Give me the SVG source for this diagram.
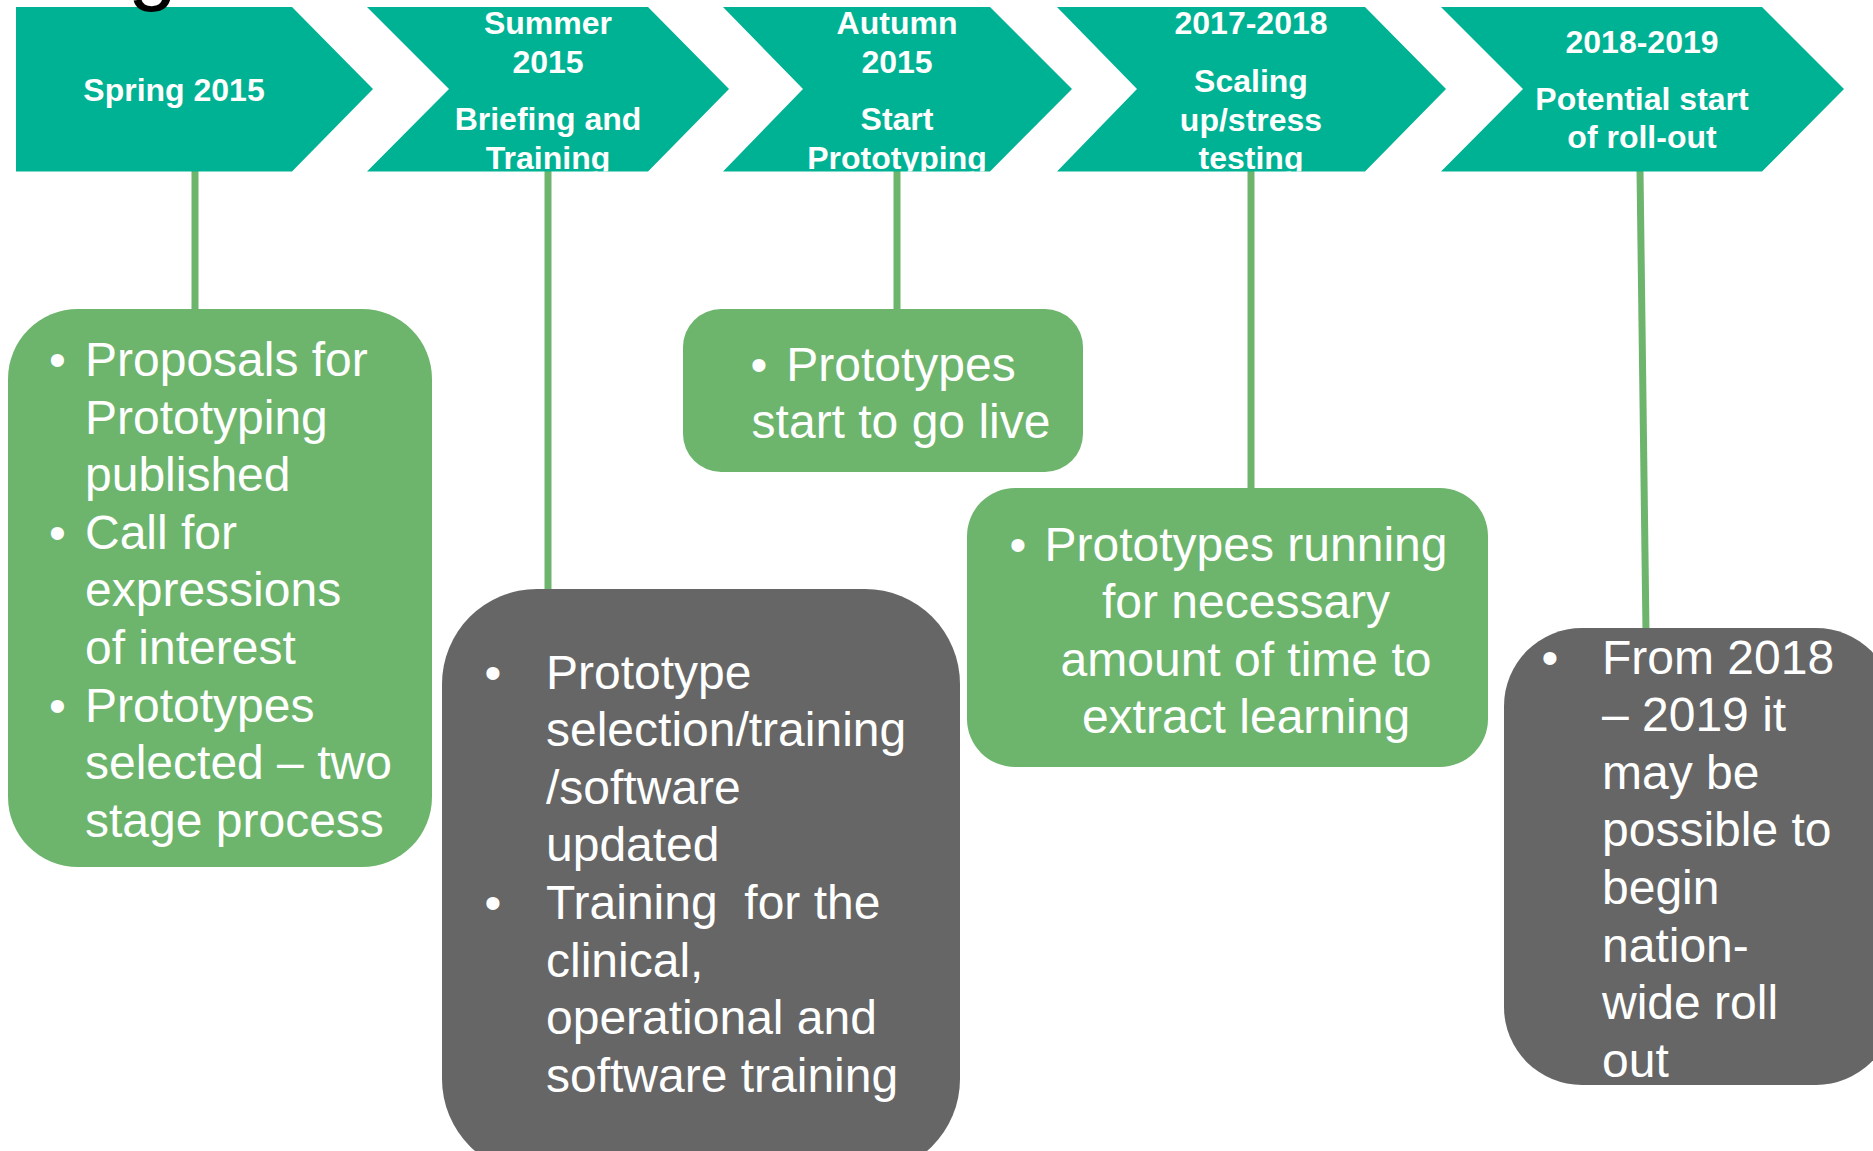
<svg xmlns="http://www.w3.org/2000/svg" width="1873" height="1151" viewBox="0 0 1873 1151">
<style>
.chev{fill:#00B294}
.ct{font-family:"Liberation Sans",Arial,sans-serif;font-weight:bold;font-size:32px;fill:#fff;text-anchor:middle}
.conn{stroke:#6DB56D;stroke-width:7;fill:none}
.gb{fill:#6DB56D}
.db{fill:#666666}
.bt{font-family:"Liberation Sans",Arial,sans-serif;font-size:48px;fill:#fff}
.mid{text-anchor:middle}
</style>
<defs>
<clipPath id="chevclip"><rect x="0" y="0" width="1873" height="171.5"/></clipPath>
</defs>
<rect x="0" y="0" width="1873" height="1151" fill="#ffffff"/>
<g id="connectors">
<line class="conn" x1="195" y1="170" x2="195" y2="312"/>
<line class="conn" x1="548" y1="170" x2="548" y2="592"/>
<line class="conn" x1="897" y1="170" x2="897" y2="312"/>
<line class="conn" x1="1251" y1="170" x2="1251" y2="492"/>
<line class="conn" x1="1640" y1="170" x2="1646" y2="632"/>
</g>
<g id="chevron-spring2015">
<path class="chev" d="M16,7 L292,7 L373,89 L292,171.5 L16,171.5 Z"/>
<text class="ct" x="174" y="101" clip-path="url(#chevclip)">Spring 2015</text>
</g>
<g id="chevron-summer2015">
<path class="chev" d="M367,7 L648,7 L729,89 L648,171.5 L367,171.5 L449,89 Z"/>
<g clip-path="url(#chevclip)">
<text class="ct" x="548" y="34">Summer</text>
<text class="ct" x="548" y="72.5">2015</text>
<text class="ct" x="548" y="130">Briefing and</text>
<text class="ct" x="548" y="168.5">Training</text>
</g>
</g>
<g id="chevron-autumn2015">
<path class="chev" d="M723,7 L990,7 L1072,89 L990,171.5 L723,171.5 L803,89 Z"/>
<g clip-path="url(#chevclip)">
<text class="ct" x="897" y="34">Autumn</text>
<text class="ct" x="897" y="72.5">2015</text>
<text class="ct" x="897" y="130">Start</text>
<text class="ct" x="897" y="168.5">Prototyping</text>
</g>
</g>
<g id="chevron-2017-2018">
<path class="chev" d="M1057,7 L1365,7 L1446,89 L1365,171.5 L1057,171.5 L1137,89 Z"/>
<g clip-path="url(#chevclip)">
<text class="ct" x="1251" y="34">2017-2018</text>
<text class="ct" x="1251" y="92">Scaling</text>
<text class="ct" x="1251" y="130.5">up/stress</text>
<text class="ct" x="1251" y="168.5">testing</text>
</g>
</g>
<g id="chevron-2018-2019">
<path class="chev" d="M1441,7 L1762,7 L1844,89 L1762,171.5 L1441,171.5 L1523,89 Z"/>
<g clip-path="url(#chevclip)">
<text class="ct" x="1642" y="53">2018-2019</text>
<text class="ct" x="1642" y="110">Potential start</text>
<text class="ct" x="1642" y="148">of roll-out</text>
</g>
</g>
<text x="128" y="-6.5" font-family="Liberation Sans, Arial, sans-serif" font-size="88" fill="#000">g</text>
<g id="box-spring">
<rect class="gb" x="8" y="309" width="424" height="558" rx="70" ry="70"/>
<text class="bt" x="49" y="376">•</text>
<text class="bt" x="85" y="376">Proposals for</text>
<text class="bt" x="85" y="433.6">Prototyping</text>
<text class="bt" x="85" y="491.2">published</text>
<text class="bt" x="49" y="548.8">•</text>
<text class="bt" x="85" y="548.8">Call for</text>
<text class="bt" x="85" y="606.4">expressions</text>
<text class="bt" x="85" y="664">of interest</text>
<text class="bt" x="49" y="721.6">•</text>
<text class="bt" x="85" y="721.6">Prototypes</text>
<text class="bt" x="85" y="779.2">selected – two</text>
<text class="bt" x="85" y="836.8">stage process</text>
</g>
<g id="box-summer">
<rect class="db" x="442" y="589" width="518" height="585" rx="95" ry="95"/>
<text class="bt" x="484.6" y="688.5">•</text>
<text class="bt" x="546" y="688.5">Prototype</text>
<text class="bt" x="546" y="746.1">selection/training</text>
<text class="bt" x="546" y="803.7">/software</text>
<text class="bt" x="546" y="861.3">updated</text>
<text class="bt" x="484.6" y="918.9">•</text>
<text class="bt" x="546" y="918.9" xml:space="preserve">Training  for the</text>
<text class="bt" x="546" y="976.5">clinical,</text>
<text class="bt" x="546" y="1034.1">operational and</text>
<text class="bt" x="546" y="1091.7">software training</text>
</g>
<g id="box-autumn">
<rect class="gb" x="683" y="309" width="400" height="163" rx="38" ry="38"/>
<text class="bt" x="750.6" y="380.5">•</text>
<text class="bt mid" x="901" y="380.5">Prototypes</text>
<text class="bt mid" x="901" y="438.1">start to go live</text>
</g>
<g id="box-2017">
<rect class="gb" x="967" y="488" width="521" height="279" rx="48" ry="48"/>
<text class="bt" x="1009.6" y="560.5">•</text>
<text class="bt mid" x="1246" y="560.5">Prototypes running</text>
<text class="bt mid" x="1246" y="618.1">for necessary</text>
<text class="bt mid" x="1246" y="675.7">amount of time to</text>
<text class="bt mid" x="1246" y="733.3">extract learning</text>
</g>
<g id="box-2018">
<rect class="db" x="1504" y="628" width="390" height="457" rx="78" ry="78"/>
<text class="bt" x="1541.5" y="673.5">•</text>
<text class="bt" x="1602" y="673.5">From 2018</text>
<text class="bt" x="1602" y="731.1">– 2019 it</text>
<text class="bt" x="1602" y="788.7">may be</text>
<text class="bt" x="1602" y="846.3">possible to</text>
<text class="bt" x="1602" y="903.9">begin</text>
<text class="bt" x="1602" y="961.5">nation-</text>
<text class="bt" x="1602" y="1019.1">wide roll</text>
<text class="bt" x="1602" y="1076.7">out</text>
</g>
</svg>
